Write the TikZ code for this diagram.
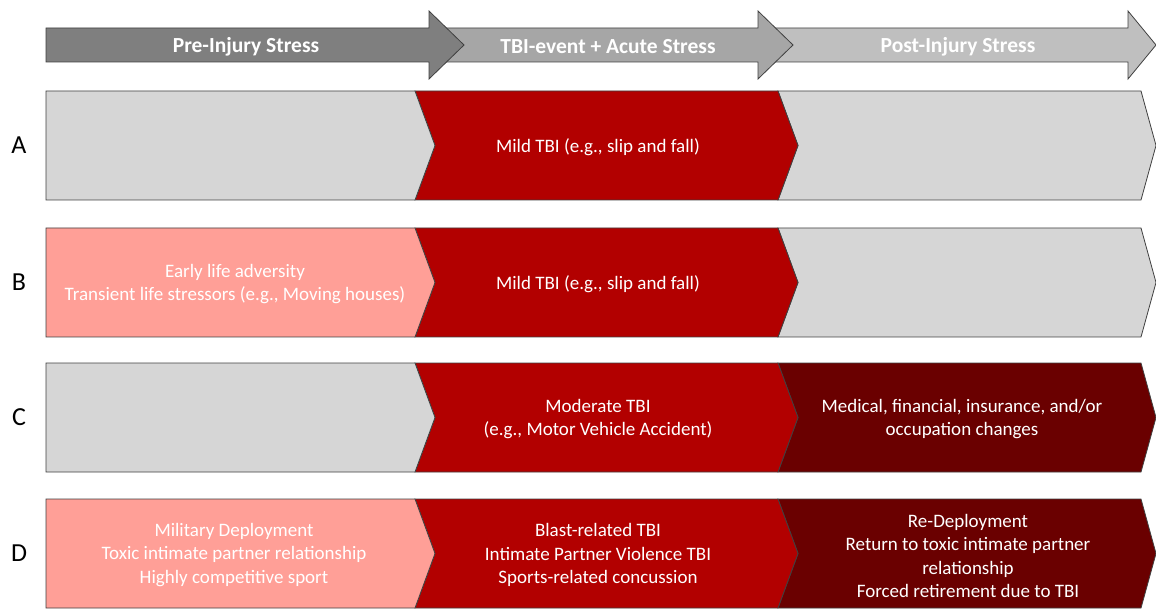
\documentclass[tikz,border=0pt]{standalone}
\usepackage{fontspec}
\setmainfont{Carlito}
\definecolor{seggray}{HTML}{D6D6D6}
\definecolor{segred}{HTML}{B20000}
\definecolor{segpink}{HTML}{FF9F97}
\definecolor{segdark}{HTML}{6A0000}
\definecolor{arA}{HTML}{7F7F7F}
\definecolor{arB}{HTML}{A6A6A6}
\definecolor{arC}{HTML}{BFBFBF}
\definecolor{edge}{HTML}{404040}
\tikzset{
  seg/.style={draw=edge, line width=0.8pt, line join=miter},
  txt/.style={text=white, align=center, font=\fontsize{19}{23.5}\selectfont, inner sep=0pt},
  head/.style={text=white, font=\bfseries\fontsize{21.5}{24}\selectfont, inner sep=0pt},
  rowlabel/.style={text=black, font=\fontsize{26}{30}\selectfont, inner sep=0pt},
}
\begin{document}
\begin{tikzpicture}[x=1pt,y=-1pt]
\useasboundingbox (0,0) rectangle (1156,609);
% header arrows
\fill[arC, seg] (760,28) -- (1128,28) -- (1128,11) -- (1156,45) -- (1128,79) -- (1128,62) -- (760,62) -- cycle;
\fill[arB, seg] (430,28) -- (758,28) -- (758,11) -- (793,45) -- (758,79) -- (758,62) -- (430,62) -- cycle;
\fill[arA, seg] (46,28) -- (429,28) -- (429,11) -- (464,45) -- (429,79) -- (429,62) -- (46,62) -- cycle;
\node[head] (h1) at (246,46.5) {Pre-Injury Stress};
\node[head] (h2) at (608,46.5) {TBI-event + Acute Stress};
\node[head] (h3) at (958,46.5) {Post-Injury Stress};
% rows: top y, colours
\foreach \t/\cA/\cB/\cC/\lab in {91/seggray/segred/seggray/A, 228/segpink/segred/seggray/B, 363/seggray/segred/segdark/C, 499/segpink/segred/segdark/D}{
  \pgfmathsetmacro{\b}{\t+109}
  \pgfmathsetmacro{\m}{\t+54.5}
  \fill[\cC, seg] (778,\t) -- (1141,\t) -- (1156,\m) -- (1141,\b) -- (778,\b) -- (798,\m) -- cycle;
  \fill[\cB, seg] (415,\t) -- (778,\t) -- (798,\m) -- (778,\b) -- (415,\b) -- (435,\m) -- cycle;
  \fill[\cA, seg] (46,\t) -- (415,\t) -- (435,\m) -- (415,\b) -- (46,\b) -- cycle;
  \node[rowlabel] (lab\lab) at (19,\m) {\lab};
}
% texts
\node[txt] (a2) at (598,147) {Mild TBI (e.g., slip and fall)};
\node[txt] (b1) at (235,284) {Early life adversity\\Transient life stressors (e.g., Moving houses)};
\node[txt] (b2) at (598,284) {Mild TBI (e.g., slip and fall)};
\node[txt] (c2) at (598,419) {Moderate TBI\\(e.g., Motor Vehicle Accident)};
\node[txt] (c3) at (962,419) {Medical, financial, insurance, and/or\\occupation changes};
\node[txt] (d1) at (234,555) {Military Deployment\\Toxic intimate partner relationship\\Highly competitive sport};
\node[txt] (d2) at (598,555) {Blast-related TBI\\Intimate Partner Violence TBI\\Sports-related concussion};
\node[txt] (d3) at (968,556) {Re-Deployment\\Return to toxic intimate partner\\relationship\\Forced retirement due to TBI};
\end{tikzpicture}
\end{document}
